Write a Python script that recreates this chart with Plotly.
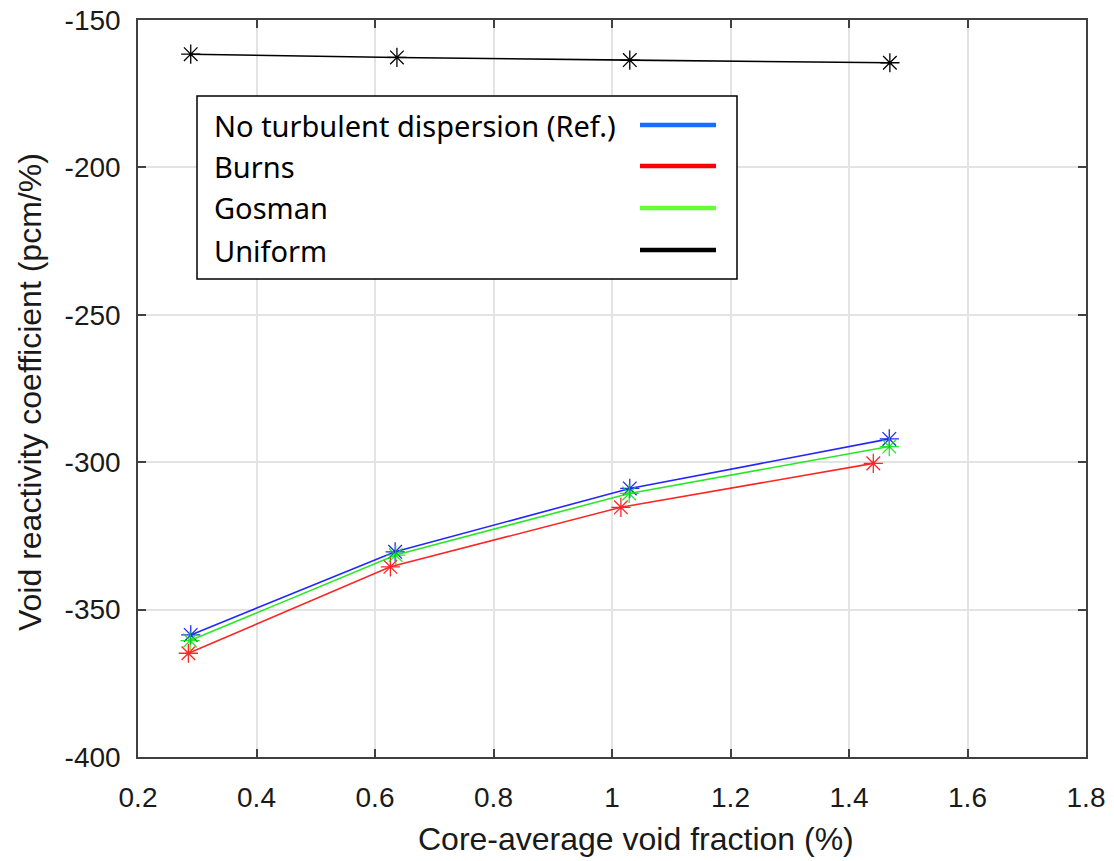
import plotly.graph_objects as go

# Core-average void fraction (%) and void reactivity coefficient (pcm/%)
x_ref = [0.289, 0.634, 1.030, 1.468]
y_ref = [-358.6, -330.4, -308.9, -292.1]

x_burns = [0.285, 0.626, 1.015, 1.441]
y_burns = [-364.8, -335.5, -315.3, -300.4]

x_gosman = [0.288, 0.635, 1.029, 1.468]
y_gosman = [-360.5, -331.5, -310.6, -294.7]

x_uniform = [0.289, 0.637, 1.030, 1.469]
y_uniform = [-161.6, -162.7, -163.6, -164.5]

series_names = ["No turbulent dispersion (Ref.)", "Burns", "Gosman", "Uniform"]
line_colors = ["#0000ff", "#ff0000", "#00e600", "#000000"]
legend_colors = ["#1a6cff", "#ff0000", "#66ff33", "#000000"]

x_ticks = [0.2, 0.4, 0.6, 0.8, 1.0, 1.2, 1.4, 1.6, 1.8]
x_tick_text = ["0.2", "0.4", "0.6", "0.8", "1", "1.2", "1.4", "1.6", "1.8"]
y_ticks = [-400, -350, -300, -250, -200, -150]
y_tick_text = ["-400", "-350", "-300", "-250", "-200", "-150"]

fig = go.Figure()
for (xs, ys), name, col in zip(
    [(x_ref, y_ref), (x_burns, y_burns), (x_gosman, y_gosman), (x_uniform, y_uniform)],
    series_names, line_colors,
):
    fig.add_trace(go.Scatter(
        x=xs, y=ys, name=name, mode="lines+markers",
        line=dict(color=col, width=1.6),
        marker=dict(symbol="asterisk-open", size=16, color=col,
                    line=dict(color=col, width=1.3)),
        opacity=0.85 if col != "#000000" else 1.0,
        showlegend=False,
    ))

# Boxed legend: label text on the left, line sample on the right
L, R, T, B = 138, 1086, 20, 757
W, H = R - L, B - T


def px(xp):
    return (xp - L) / W


def py(yp):
    return (B - yp) / H


shapes = [dict(type="rect", xref="paper", yref="paper",
               x0=px(197), x1=px(737), y0=py(279), y1=py(96),
               line=dict(color="black", width=1.5), fillcolor="white", layer="above")]
annotations = []
row_y = [125, 166, 208, 250]
for name, col, ry in zip(series_names, legend_colors, row_y):
    shapes.append(dict(type="line", xref="paper", yref="paper",
                       x0=px(640), x1=px(716), y0=py(ry), y1=py(ry),
                       line=dict(color=col, width=4.5), layer="above"))
    annotations.append(dict(xref="paper", yref="paper", x=px(212), y=py(ry),
                            text=name, showarrow=False, xanchor="left", yanchor="middle",
                            font=dict(family="Noto Sans", size=29, color="black")))

# Axis titles
annotations.append(dict(xref="paper", yref="paper", x=px(636), y=py(839),
                        text="Core-average void fraction (%)", showarrow=False,
                        xanchor="center", yanchor="middle",
                        font=dict(family="Liberation Sans", size=32, color="#1a1a1a")))
annotations.append(dict(xref="paper", yref="paper", x=px(30), y=py(392),
                        text="Void reactivity coefficient (pcm/%)", showarrow=False,
                        textangle=-90, xanchor="center", yanchor="middle",
                        font=dict(family="Liberation Sans", size=32, color="#1a1a1a")))

axis_common = dict(
    showgrid=True, gridcolor="#e3e3e3", gridwidth=1.5,
    showline=True, linecolor="#404040", linewidth=1.5, mirror="ticks",
    ticks="inside", ticklen=8, tickcolor="#404040", tickwidth=1.5,
    zeroline=False, automargin=False,
    tickfont=dict(family="Liberation Sans", size=28, color="#1a1a1a"),
)

fig.update_layout(
    width=1114, height=861,
    margin=dict(l=L, r=1114 - R, t=T, b=861 - B),
    plot_bgcolor="white", paper_bgcolor="white",
    shapes=shapes, annotations=annotations,
    xaxis=dict(range=[0.2, 1.8], tickvals=x_ticks, ticktext=x_tick_text,
               ticklabelstandoff=15, **axis_common),
    yaxis=dict(range=[-400, -150], tickvals=y_ticks, ticktext=y_tick_text,
               ticklabelstandoff=10, **axis_common),
)

fig.write_html("out.html")
